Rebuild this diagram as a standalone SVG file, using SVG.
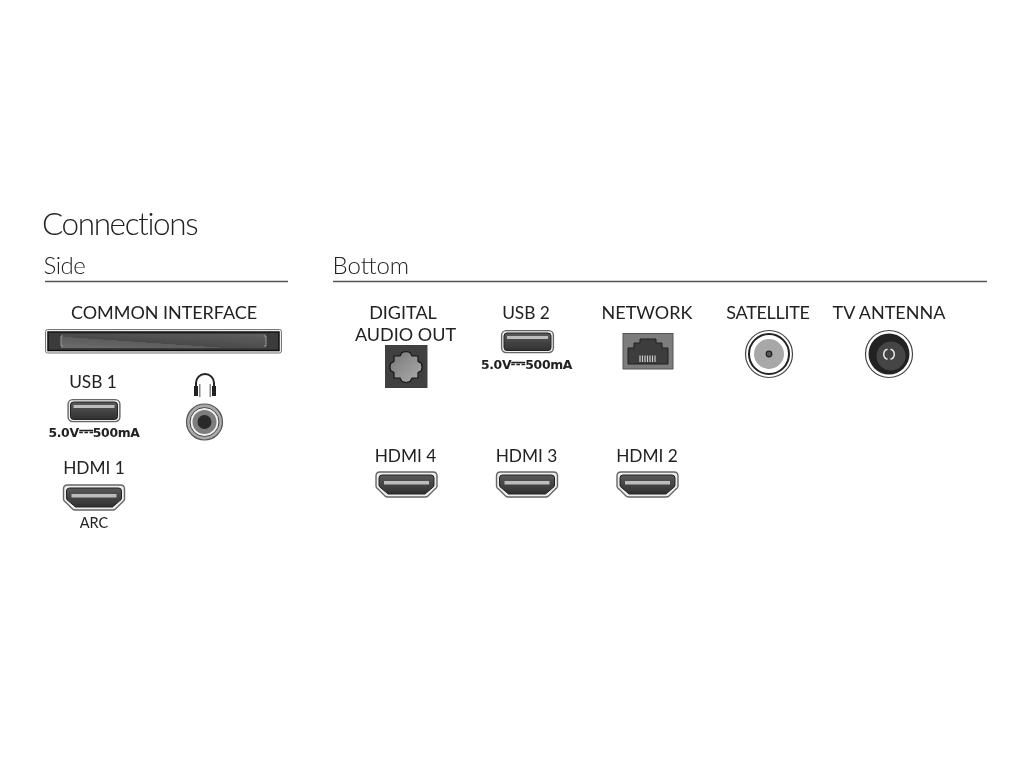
<svg xmlns="http://www.w3.org/2000/svg" width="1024" height="768" viewBox="0 0 1024 768">
<style>
text{font-family:"Lato","Liberation Sans",sans-serif;fill:#222;text-anchor:middle}
.h{font-weight:300;text-anchor:start;fill:#222}
.l{font-size:18px}
.n{font-size:17.300px}
.s{font-size:12.400px;font-weight:700;font-family:"DejaVu Sans","Liberation Sans",sans-serif;letter-spacing:-.3px}
.dc{font-size:18px;letter-spacing:0}
.rule{stroke:#555;stroke-width:1.400}
</style>
<defs>
<filter id="soft" x="-2%" y="-2%" width="104%" height="104%"><feGaussianBlur stdDeviation="0.350"/></filter>
<linearGradient id="slot" x1="0" y1="1" x2="1" y2="0"><stop offset="0" stop-color="#6d6d6d"/><stop offset=".4" stop-color="#5c5c5c"/><stop offset=".41" stop-color="#4a4a4a"/><stop offset="1" stop-color="#5f5f5f"/></linearGradient>
<linearGradient id="port" x1="0" y1="0" x2="0" y2="1"><stop offset="0" stop-color="#5a5a5a"/><stop offset="1" stop-color="#303030"/></linearGradient>
<linearGradient id="oct" x1="0" y1="0" x2="1" y2="1"><stop offset="0" stop-color="#777"/><stop offset="1" stop-color="#adadad"/></linearGradient>
<g id="hdmi">
<path d="M4 0H57Q61 0 61 4V14Q61 16 59 17L52 24Q51 25 49 25H12Q10 25 9 24L2 17Q0 16 0 14V4Q0 0 4 0Z" fill="#eee" stroke="#666" stroke-width="1.400"/>
<path d="M6 3H55Q58 3 58 6V13Q58 15 56 16L49 22H12L5 16Q3 15 3 13V6Q3 3 6 3Z" fill="url(#port)" stroke="#222"/>
<rect x="8" y="9" width="45" height="3.500" fill="#bdbdbd"/>
</g>
<g id="usb">
<rect x=".6" y=".6" width="51.800" height="22" rx="4.500" fill="#eee" stroke="#666" stroke-width="1.400"/>
<rect x="3" y="3" width="47" height="17.500" rx="3" fill="url(#port)" stroke="#222"/>
<rect x="6" y="6" width="41" height="3" fill="#bdbdbd"/>
</g>
</defs>
<rect width="1024" height="768" fill="#fff"/>
<g id="diagram" filter="url(#soft)">
<g id="headings">
<text class="h" x="42" y="235" font-size="31.500" letter-spacing="-1.400">Connections</text>
<text class="h" x="43.500" y="274" font-size="24" letter-spacing="-.5">Side</text>
<text class="h" x="332.500" y="274" font-size="24">Bottom</text>
</g>
<g id="connectors">
<line class="rule" x1="45" y1="281.500" x2="288" y2="281.500"/>
<line class="rule" x1="333" y1="281.500" x2="987" y2="281.500"/>
</g>
<g id="common-interface">
<text class="l" x="164" y="319" letter-spacing="-.05">COMMON INTERFACE</text>
<rect x="45.500" y="329.500" width="236" height="23.500" rx="2" fill="#eee" stroke="#777"/>
<rect x="48" y="332" width="231" height="18.500" fill="#3a3a3a" stroke="#111" stroke-width="1.500"/>
<rect x="61" y="334" width="205" height="14" fill="url(#slot)"/>
<path d="M63 336H61V346H63M264 336H266V346H264" fill="none" stroke="#999"/>
</g>
<g id="usb-1">
<text class="n" x="93" y="388">USB 1</text>
<use href="#usb" x="67.500" y="399"/>
<text class="s" x="94" y="437">5.0V<tspan class="dc">⎓</tspan>500mA</text>
</g>
<g id="headphone">
<path d="M196 387V383A9 9 0 0 1 214 383V387" fill="none" stroke="#222" stroke-width="2"/>
<rect x="194" y="386" width="4" height="10" fill="#222"/><rect x="212" y="386" width="4" height="10" fill="#222"/>
<rect x="199" y="384" width="1.500" height="13" fill="#888"/><rect x="209.500" y="384" width="1.500" height="13" fill="#888"/>
<circle cx="204.500" cy="422" r="18" fill="#aaa" stroke="#555" stroke-width="1.200"/>
<circle cx="204.500" cy="422" r="14.500" fill="#f2f2f2" stroke="#444"/>
<circle cx="204.500" cy="422" r="12" fill="#7d7d7d"/>
<circle cx="204.500" cy="422" r="7" fill="#2a2a2a"/>
</g>
<g id="hdmi-1">
<text class="n" x="94" y="474">HDMI 1</text>
<use href="#hdmi" x="63.500" y="485"/>
<text x="94" y="528" font-size="14.500">ARC</text>
</g>
<g id="digital-audio-out">
<text class="l" x="403" y="319">DIGITAL</text>
<text class="l" x="405.500" y="341">AUDIO OUT</text>
<rect x="385" y="345" width="42.500" height="43" fill="#404040"/>
<path d="M402 352.500L406 351.500L410 352.500L412 356H418V361.500L421.500 363.500L422 367L421.500 370.500L418 372.500V378H412L410 381.500L406 382.500L402 381.500L400 378H394V372.500L390.500 370.500L390 367L390.500 363.500L394 361.500V356H400Z" fill="url(#oct)" stroke="#161616" stroke-width="1.200" stroke-linejoin="round"/>
</g>
<g id="usb-2">
<text class="n" x="526" y="319">USB 2</text>
<use href="#usb" x="501" y="330"/>
<text class="s" x="526.500" y="369">5.0V<tspan class="dc">⎓</tspan>500mA</text>
</g>
<g id="network">
<text class="l" x="647" y="319">NETWORK</text>
<rect x="623" y="333.500" width="50" height="35.500" fill="#7b7b7b" stroke="#555"/>
<path d="M628 364V348H634V343H640V339H656V343H662V348H668V364Z" fill="#3c3c3c" stroke="#222"/>
<path d="M640 355.500V362M642.500 355.500V362M645 355.500V362M647.500 355.500V362M650 355.500V362M652.500 355.500V362M655 355.500V362" stroke="#ccc" stroke-width="1.200"/>
</g>
<g id="satellite">
<text class="l" x="768" y="319" letter-spacing="-.3">SATELLITE</text>
<circle cx="769" cy="354" r="23.500" fill="#fff" stroke="#444" stroke-width="1.200"/>
<circle cx="769" cy="354" r="20" fill="#fff" stroke="#222" stroke-width="2"/>
<circle cx="769" cy="354" r="15" fill="#a8a8a8"/>
<circle cx="769" cy="354" r="2.800" fill="#555" stroke="#222" stroke-width="1.200"/>
</g>
<g id="tv-antenna">
<text class="l" x="889" y="319">TV ANTENNA</text>
<circle cx="889" cy="354" r="23.500" fill="#fff" stroke="#444" stroke-width="1.200"/>
<circle cx="889" cy="354" r="20.500" fill="#222"/>
<circle cx="891" cy="356" r="14.500" fill="#454545"/>
<path d="M887.500 349.200A5.200 5.200 0 0 0 887.500 359.200M890.500 349.200A5.200 5.200 0 0 1 890.500 359.200" fill="none" stroke="#e8e8e8" stroke-width="1.500"/>
</g>
<g id="hdmi-4">
<text class="n" x="405.500" y="462">HDMI 4</text>
<use href="#hdmi" x="376" y="472"/>
</g>
<g id="hdmi-3">
<text class="n" x="526.500" y="462">HDMI 3</text>
<use href="#hdmi" x="496.500" y="472"/>
</g>
<g id="hdmi-2">
<text class="n" x="647" y="462">HDMI 2</text>
<use href="#hdmi" x="617" y="472"/>
</g>
</g>
</svg>
